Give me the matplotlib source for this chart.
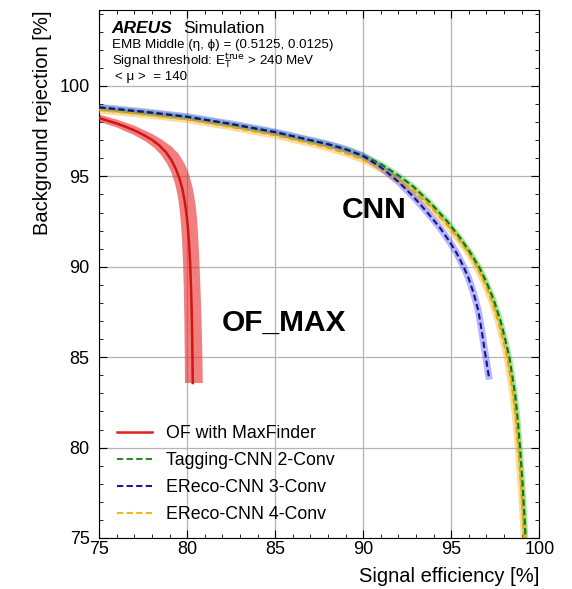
import matplotlib
matplotlib.use("Agg")
import matplotlib.pyplot as plt
from matplotlib.lines import Line2D

plt.rcParams['font.family'] = ['Liberation Sans', 'DejaVu Sans']

# OF with MaxFinder: central curve and the two edges of its uncertainty band
of_eff = [75.0, 75.5, 76.0, 76.5, 77.0, 77.5, 78.0, 78.4, 78.8, 79.1, 79.35, 79.55,
          79.72, 79.85, 79.95, 80.03, 80.1, 80.16, 80.21, 80.25, 80.28, 80.31]
of_rej = [98.22, 98.07, 97.92, 97.74, 97.54, 97.3, 97.02, 96.72, 96.32, 95.9, 95.4, 94.9,
          94.3, 93.65, 92.95, 92.2, 91.3, 90.2, 88.9, 87.5, 86.0, 83.57]
of_hi_eff = [75.0, 76.0, 77.0, 78.0, 78.6, 79.1, 79.5, 79.85, 80.1, 80.3, 80.45, 80.55,
             80.63, 80.7, 80.76, 80.81, 80.85, 80.88]
of_hi_rej = [98.42, 98.14, 97.8, 97.35, 97.0, 96.65, 96.25, 95.7, 95.1, 94.4, 93.6, 92.7,
             91.5, 90.0, 88.5, 87.0, 85.5, 83.57]
of_lo_eff = [75.0, 76.0, 77.0, 77.6, 78.1, 78.5, 78.85, 79.1, 79.3, 79.45, 79.55, 79.63,
             79.7, 79.76, 79.8, 79.83, 79.85, 79.87]
of_lo_rej = [98.02, 97.7, 97.27, 96.95, 96.6, 96.2, 95.7, 95.2, 94.6, 93.95, 93.3, 92.5,
             91.5, 90.2, 88.8, 87.2, 85.5, 83.57]

# Tagging-CNN 2-Conv
tag2_eff = [75.0, 77.5, 80.0, 82.5, 85.0, 87.0, 88.0, 89.0, 90.0, 91.0, 92.0, 92.84,
            93.8, 94.74, 95.5, 96.1, 96.6, 97.0, 97.4, 97.8, 98.06, 98.3, 98.62, 98.78,
            98.9, 99.05, 99.15, 99.22]
tag2_rej = [98.8, 98.56, 98.28, 97.88, 97.44, 97.0, 96.78, 96.5, 96.15, 95.68, 95.05, 94.44,
            93.55, 92.55, 91.6, 90.75, 89.95, 89.15, 88.2, 87.0, 86.0, 85.0, 83.0, 81.5,
            80.07, 78.0, 76.3, 75.0]

# EReco-CNN 3-Conv
ereco3_eff = [75.0, 77.5, 80.0, 82.5, 85.0, 87.0, 88.0, 89.0, 90.0, 91.0, 92.0, 92.84,
              93.6, 94.36, 94.9, 95.3, 95.65, 95.97, 96.25, 96.53, 96.73, 96.91, 97.05, 97.16]
ereco3_rej = [98.82, 98.58, 98.3, 97.9, 97.45, 97.0, 96.78, 96.5, 96.12, 95.5, 94.7, 93.88,
              93.05, 92.15, 91.4, 90.76, 90.1, 89.4, 88.6, 87.6, 86.45, 85.3, 84.45, 83.76]

# EReco-CNN 4-Conv
ereco4_eff = [75.0, 77.5, 80.0, 82.5, 85.0, 87.0, 88.0, 89.0, 90.0, 91.0, 92.0, 92.84,
              93.8, 94.74, 95.4, 96.0, 96.48, 96.87, 97.27, 97.67, 97.93, 98.17, 98.5,
              98.67, 98.8, 98.96, 99.07, 99.14]
ereco4_rej = [98.67, 98.42, 98.14, 97.73, 97.27, 96.82, 96.58, 96.28, 95.92, 95.42, 94.8,
              94.2, 93.35, 92.35, 91.55, 90.75, 89.95, 89.15, 88.2, 87.0, 86.0, 85.0, 83.0,
              81.5, 80.07, 78.0, 76.3, 75.0]

labels = ['OF with MaxFinder', 'Tagging-CNN 2-Conv', 'EReco-CNN 3-Conv', 'EReco-CNN 4-Conv']

fig = plt.figure(figsize=(5.72, 5.89), dpi=100)
ax = fig.add_axes([0.1736, 0.0866, 0.7692, 0.8964])

# red band as a closed polygon: upper edge, then lower edge reversed
ax.fill(of_hi_eff + of_lo_eff[::-1], of_hi_rej + of_lo_rej[::-1],
        color='#ea2a2a', alpha=0.6, lw=0, zorder=2)
ax.plot(of_eff, of_rej, color='#d01515', lw=1.8, zorder=3)

# CNN curves: pale band under a dashed line
ax.plot(ereco4_eff, ereco4_rej, color='#ffb020', alpha=0.45, lw=5, zorder=3,
        solid_capstyle='butt')
ax.plot(tag2_eff, tag2_rej, color='#30cc30', alpha=0.4, lw=4, zorder=3,
        solid_capstyle='butt')
ax.plot(ereco3_eff, ereco3_rej, color='#3030ff', alpha=0.35, lw=5, zorder=3,
        solid_capstyle='butt')
ax.plot(ereco4_eff, ereco4_rej, color='#e8a800', lw=1.5, ls='--', dashes=(3, 1.6), zorder=4)
ax.plot(tag2_eff, tag2_rej, color='#1a6e1a', lw=1.5, ls='--', dashes=(3, 1.6), zorder=5)
ax.plot(ereco3_eff, ereco3_rej, color='#12128c', lw=1.5, ls='--', dashes=(3, 1.6), zorder=6)

ax.set_xlim(75, 100)
ax.set_ylim(75, 104.2)
ax.set_xticks([75, 80, 85, 90, 95, 100])
ax.set_yticks([75, 80, 85, 90, 95, 100])
ax.set_xticks(range(75, 101), minor=True)
ax.set_yticks(range(75, 105), minor=True)
ax.tick_params(which='both', direction='in', top=True, right=True, labelsize=13)
ax.tick_params(which='major', length=6, width=0.8)
ax.tick_params(which='minor', length=3, width=0.6)
ax.tick_params(axis='x', which='major', pad=2)
ax.tick_params(axis='y', which='major', pad=7)
ax.grid(True, which='major', color='#b4b4b4', lw=0.9)
ax.set_axisbelow(True)

ax.set_xlabel('Signal efficiency [%]', fontsize=14.5, loc='right', labelpad=7)
ax.set_ylabel('Background rejection [%]', fontsize=14.5, loc='top', labelpad=5)

ax.text(81.96, 86.43, 'OF_MAX', fontsize=21.5, fontweight='bold', zorder=7)
ax.text(88.77, 92.69, 'CNN', fontsize=21.5, fontweight='bold', zorder=7)

W, H = 572, 589
fig.text(111.7 / W, 1 - 33.3 / H, 'AREUS', fontsize=12.5, fontweight='bold',
         fontstyle='italic')
fig.text(183 / W, 1 - 33.3 / H, 'Simulation', fontsize=12.5)
fig.text(111.7 / W, 1 - 48.3 / H, 'EMB Middle (η, ϕ) = (0.5125, 0.0125)', fontsize=9.6)
fig.text(111.7 / W, 1 - 65 / H, r'Signal threshold: E$_{\mathrm{T}}^{\mathrm{true}}$ > 240 MeV',
         fontsize=9.6)
fig.text(115 / W, 1 - 80 / H, '< μ >  = 140', fontsize=9.6)

handles = [
    Line2D([], [], color='#e02020', lw=1.8),
    Line2D([], [], color='#2a8a2a', lw=1.5, ls='--', dashes=(3, 1.6)),
    Line2D([], [], color='#1a1a9a', lw=1.5, ls='--', dashes=(3, 1.6)),
    Line2D([], [], color='#f0b820', lw=1.5, ls='--', dashes=(3, 1.6)),
]
fig.legend(handles, labels, loc='upper left', bbox_to_anchor=(116.5 / W, 1 - 425 / H),
           frameon=False, fontsize=12.8, handlelength=1.97, handletextpad=0.84,
           labelspacing=0.57, borderpad=0, borderaxespad=0)

fig.savefig('out.png', dpi=100)
